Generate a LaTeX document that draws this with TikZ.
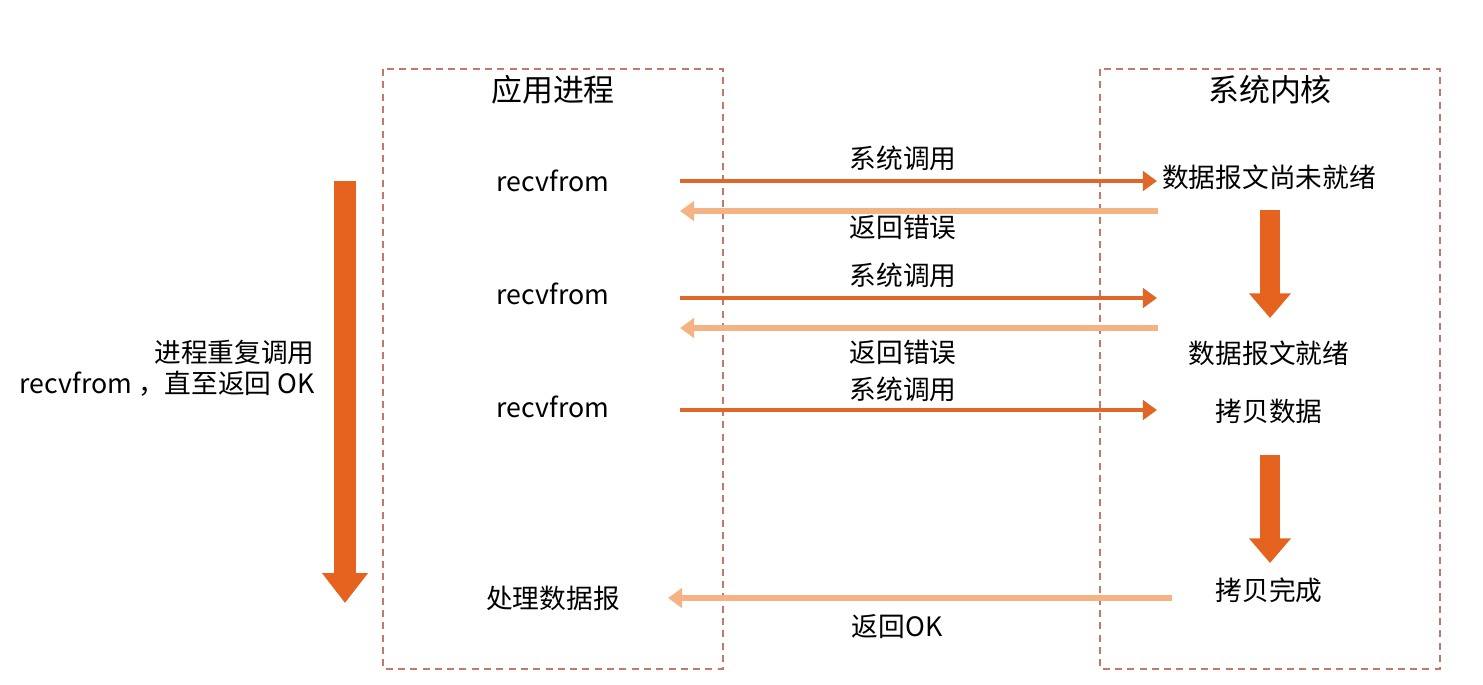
\documentclass[tikz,border=0pt]{standalone}
\usepackage{fontspec}
\setmainfont{Noto Sans CJK SC}
\usetikzlibrary{arrows.meta, positioning}
\definecolor{callarr}{HTML}{E0662A}
\definecolor{retarr}{HTML}{F5B383}
\definecolor{blockarr}{HTML}{E6621F}
\definecolor{frame}{HTML}{BF7A6C}
\tikzset{
	lane/.style={draw=frame, line width=0.8pt, dash pattern=on 4pt off 3pt},
	title/.style={font=\fontsize{17.6}{20}\selectfont, inner sep=0pt},
	lbl/.style={font=\fontsize{15.2}{17.6}\selectfont, inner sep=0pt},
	call/.style={-{Triangle[length=8pt,width=11pt]}, line width=2.8pt, callarr},
	ret/.style={-{Triangle[length=8pt,width=11pt]}, line width=3.2pt, retarr},
	flow/.style={-{Triangle[length=14pt,width=23pt]}, line width=11.5pt, blockarr},
	bigflow/.style={-{Triangle[length=17pt,width=25pt]}, line width=12.5pt, blockarr},
}

\begin{document}
\begin{tikzpicture}[x=0.02cm, y=-0.02cm]
	\useasboundingbox (0,0) rectangle (1483,684);
	% two lanes
	\draw[lane] (383,69) rectangle (723,669);
	\draw[lane] (1100,69) rectangle (1440,669);
	\node[title] (appT) at (553,90) {应用进程};
	\node[title] (kerT) at (1270,90) {系统内核};

	% application side
	\node[lbl] (r1) at (553,181) {recvfrom};
	\node[lbl] (r2) at (553,294) {recvfrom};
	\node[lbl] (r3) at (553,407) {recvfrom};
	\node[lbl] (done) at (553,598) {处理数据报};

	% kernel side
	\node[lbl] (k1) at (1269,177) {数据报文尚未就绪};
	\node[lbl] (k2) at (1269,353) {数据报文就绪};
	\node[lbl] (k3) at (1269,411) {拷贝数据};
	\node[lbl] (k4) at (1269,590) {拷贝完成};

	% arrow ends
	\coordinate (a1) at (680,181); \coordinate (b1) at (1157,181);
	\coordinate (c1) at (1158,211); \coordinate (d1) at (680,211);
	\coordinate (a2) at (680,298); \coordinate (b2) at (1157,298);
	\coordinate (c2) at (1158,328); \coordinate (d2) at (680,328);
	\coordinate (a3) at (680,410); \coordinate (b3) at (1157,410);
	\coordinate (c4) at (1172,598); \coordinate (d4) at (668,598);

	\draw[call] (a1) -- (b1);
	\draw[ret] (c1) -- (d1);
	\draw[call] (a2) -- (b2);
	\draw[ret] (c2) -- (d2);
	\draw[call] (a3) -- (b3);
	\draw[ret] (c4) -- (d4);

	\node[lbl] (s1) at (903,158) {系统调用};
	\node[lbl] (e1) at (903,227) {返回错误};
	\node[lbl] (s2) at (903,275) {系统调用};
	\node[lbl] (e2) at (903,352) {返回错误};
	\node[lbl] (s3) at (903,389) {系统调用};
	\node[lbl] (ok) at (897,627) {返回OK};

	% block arrows
	\coordinate (p1) at (1270,210); \coordinate (q1) at (1270,318);
	\coordinate (p2) at (1270,455); \coordinate (q2) at (1270,563);
	\coordinate (p0) at (345,181); \coordinate (q0) at (345,603);
	\draw[flow] (p1) -- (q1);
	\draw[flow] (p2) -- (q2);
	\draw[bigflow] (p0) -- (q0);

	\node[lbl, align=right, anchor=east] (loop) at (315,368) {进程重复调用\\recvfrom ，直至返回 OK};
\end{tikzpicture}
\end{document}
